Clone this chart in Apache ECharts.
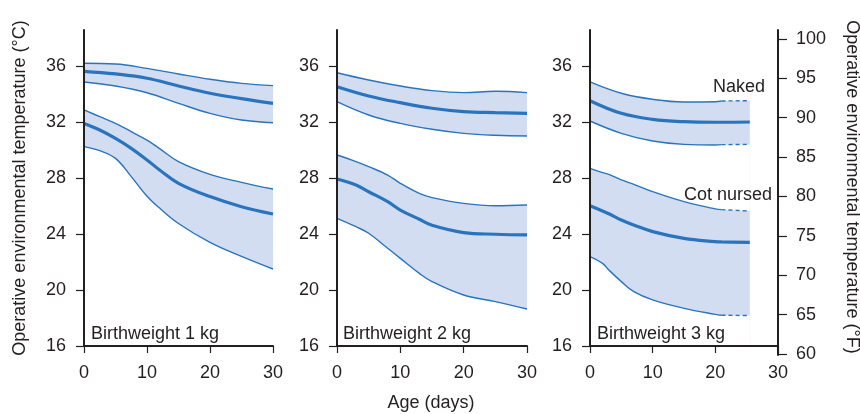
<!DOCTYPE html>
<html><head><meta charset="utf-8">
<script src="https://cdn.jsdelivr.net/npm/echarts@6/dist/echarts.min.js"></script>
<style>html,body{margin:0;padding:0;background:#fff}#c{width:860px;height:414px}</style>
</head><body><div id="c"></div>
<script>
// ---------- data ----------
const xTicks = [0, 10, 20, 30];
const cTicks = [16, 20, 24, 28, 32, 36];
const fTicks = [60, 65, 70, 75, 80, 85, 90, 95, 100];
const panelLabels = ['Birthweight 1 kg', 'Birthweight 2 kg', 'Birthweight 3 kg'];
const bandLabels = ['Naked', 'Cot nursed'];

// Birthweight 1 kg
const p1NakedDays = [0, 5, 10, 15, 20, 25, 30];
const p1NakedHi   = [36.19, 36.14, 35.83, 35.43, 35.05, 34.76, 34.6];
const p1NakedMean = [35.62, 35.43, 35.12, 34.57, 34.05, 33.67, 33.33];
const p1NakedLo   = [34.86, 34.57, 34.09, 33.33, 32.62, 32.14, 31.95];
const p1CotDays = [0, 2.5, 5, 7.5, 10, 12, 15, 20, 25, 30];
const p1CotHi   = [32.86, 32.38, 31.9, 31.31, 30.7, 30.1, 29.17, 28.26, 27.69, 27.21];
const p1CotMean = [31.9, 31.43, 30.83, 30.12, 29.29, 28.57, 27.62, 26.67, 25.95, 25.43];
const p1CotLo   = [30.24, 29.95, 29.4, 28.1, 26.7, 25.85, 24.75, 23.4, 22.4, 21.5];

// Birthweight 2 kg
const p2NakedDays = [0, 5, 10, 15, 20, 25, 30];
const p2NakedHi   = [35.52, 35.0, 34.57, 34.24, 34.1, 34.19, 34.1];
const p2NakedMean = [34.52, 33.86, 33.38, 32.98, 32.74, 32.67, 32.62];
const p2NakedLo   = [33.45, 32.5, 31.9, 31.48, 31.19, 31.05, 31.0];
const p2CotDays = [0, 3, 5, 8, 10, 13, 15, 20, 25, 30];
const p2CotHi   = [29.64, 29.17, 28.81, 28.21, 27.62, 26.9, 26.6, 26.19, 26.02, 26.07];
const p2CotMean = [27.93, 27.5, 27.02, 26.31, 25.71, 25.05, 24.62, 24.1, 23.98, 23.93];
const p2CotLo   = [25.12, 24.52, 24.05, 22.98, 22.26, 21.19, 20.6, 19.64, 19.17, 18.64];

// Birthweight 3 kg (bounds dashed after day 21)
const p3NakedDays = [0, 5, 10, 15, 20, 21, 25.5];
const p3NakedHi   = [34.86, 34.05, 33.62, 33.43, 33.45, 33.5, 33.52];
const p3NakedMean = [33.52, 32.62, 32.19, 32.02, 31.98, 31.98, 32.0];
const p3NakedLo   = [32.07, 31.19, 30.64, 30.4, 30.36, 30.38, 30.4];
const p3CotDays = [0, 2, 3, 5, 7, 10, 15, 20, 21, 25.5];
const p3CotHi   = [28.69, 28.38, 28.26, 27.86, 27.55, 27.02, 26.31, 25.79, 25.74, 25.64];
const p3CotMean = [26.02, 25.64, 25.45, 25.0, 24.64, 24.17, 23.69, 23.45, 23.43, 23.4];
const p3CotLo   = [22.38, 21.9, 21.43, 20.6, 19.88, 19.29, 18.69, 18.26, 18.2, 18.17];

// ---------- styling ----------
const FONT = '"Liberation Sans", Arial, Helvetica, sans-serif';
const INK = '#231f20';
const BLUE = '#2a74be';
const FILL = '#d2ddf1';
const SMOOTH = 0.4;

const grids = [
  { left: 84, width: 189, top: 30, height: 316 },
  { left: 337, width: 190, top: 30, height: 316 },
  { left: 590, width: 188, top: 30, height: 316 },
  { left: 590, width: 188, top: 30, height: 325 }
];

const xAxes = [0, 1, 2].map(i => ({
  type: 'value', gridIndex: i, min: 0, max: 30, interval: 10, z: 80,
  axisLine: { show: true, onZero: false, lineStyle: { color: INK, width: 2 } },
  axisTick: { show: true, inside: false, length: 7, lineStyle: { color: INK, width: 1.2 }, customValues: xTicks },
  axisLabel: { show: true, margin: 18, fontSize: 18, color: INK, fontFamily: FONT, customValues: xTicks },
  splitLine: { show: false }
}));
xAxes.push({ type: 'value', gridIndex: 3, min: 0, max: 30, show: false });

const yAxes = [0, 1, 2].map(i => ({
  type: 'value', gridIndex: i, min: 16, max: 38.57, z: 80,
  axisLine: { show: true, onZero: false, lineStyle: { color: INK, width: 2 } },
  axisTick: { show: true, inside: false, length: 8, lineStyle: { color: INK, width: 1.2 }, customValues: cTicks },
  axisLabel: { show: true, margin: 18, fontSize: 18, color: INK, fontFamily: FONT, customValues: cTicks },
  splitLine: { show: false }
}));
yAxes.push({
  type: 'value', gridIndex: 3, position: 'right', min: 59.87, max: 101.14, z: 80,
  axisLine: { show: true, onZero: false, lineStyle: { color: INK, width: 2 } },
  axisTick: { show: true, inside: false, length: 9, lineStyle: { color: INK, width: 1.2 }, customValues: fTicks },
  axisLabel: { show: true, margin: 18, fontSize: 18, color: INK, fontFamily: FONT, customValues: fTicks },
  splitLine: { show: false }
});

const series = [];
let zBase = 1;
function pts(days, vals) { return vals.map((v, i) => [days[i], v]); }
function lineSeries(g, data, width, dashed) {
  return {
    type: 'line', xAxisIndex: g, yAxisIndex: g, data, smooth: SMOOTH,
    symbol: 'none', silent: true, z: 50,
    lineStyle: { color: BLUE, width, type: dashed ? [4, 3] : 'solid' }
  };
}
function areaSeries(g, data, color, z) {
  return {
    type: 'line', xAxisIndex: g, yAxisIndex: g, data, smooth: SMOOTH,
    symbol: 'none', silent: true, z,
    lineStyle: { width: 0, opacity: 0 },
    areaStyle: { color, opacity: 1, origin: 'start' }
  };
}
function band(g, days, hi, mean, lo, dashFrom) {
  // band fill: light blue down to the axis, then white below the lower bound
  series.push(areaSeries(g, pts(days, hi), FILL, zBase++));
  series.push(areaSeries(g, pts(days, lo), '#ffffff', zBase++));
  [hi, lo].forEach(arr => {
    if (dashFrom == null) {
      series.push(lineSeries(g, pts(days, arr), 1.4, false));
    } else {
      const k = days.indexOf(dashFrom);
      series.push(lineSeries(g, pts(days.slice(0, k + 1), arr.slice(0, k + 1)), 1.4, false));
      series.push(lineSeries(g, pts(days.slice(k), arr.slice(k)), 1.4, true));
    }
  });
  series.push(lineSeries(g, pts(days, mean), 3.2, false));
}
band(0, p1NakedDays, p1NakedHi, p1NakedMean, p1NakedLo, null);
band(0, p1CotDays, p1CotHi, p1CotMean, p1CotLo, null);
band(1, p2NakedDays, p2NakedHi, p2NakedMean, p2NakedLo, null);
band(1, p2CotDays, p2CotHi, p2CotMean, p2CotLo, null);
band(2, p3NakedDays, p3NakedHi, p3NakedMean, p3NakedLo, 21);
band(2, p3CotDays, p3CotHi, p3CotMean, p3CotLo, 21);

const txt = (x, y, text, extra) => Object.assign({
  type: 'text', x, y, silent: true, z: 100,
  style: Object.assign({ text, fontSize: 18, fontFamily: FONT, fill: INK, align: 'left', verticalAlign: 'middle' }, extra || {})
});
const graphic = [
  txt(91, 334, panelLabels[0]),
  txt(343, 334, panelLabels[1]),
  txt(597, 334, panelLabels[2]),
  txt(765, 87, bandLabels[0], { align: 'right' }),
  txt(772, 195, bandLabels[1], { align: 'right' }),
  txt(431, 403, 'Age (days)', { align: 'center' }),
  Object.assign(txt(20, 188, 'Operative environmental temperature (°C)', { align: 'center' }), { rotation: Math.PI / 2 }),
  Object.assign(txt(852, 187, 'Operative environmental temperature (°F)', { align: 'center' }), { rotation: -Math.PI / 2 })
];

const chart = echarts.init(document.getElementById('c'), null, { renderer: 'canvas' });
chart.setOption({
  animation: false,
  backgroundColor: '#fff',
  grid: grids,
  xAxis: xAxes,
  yAxis: yAxes,
  series,
  graphic
});
</script>
</body></html>
